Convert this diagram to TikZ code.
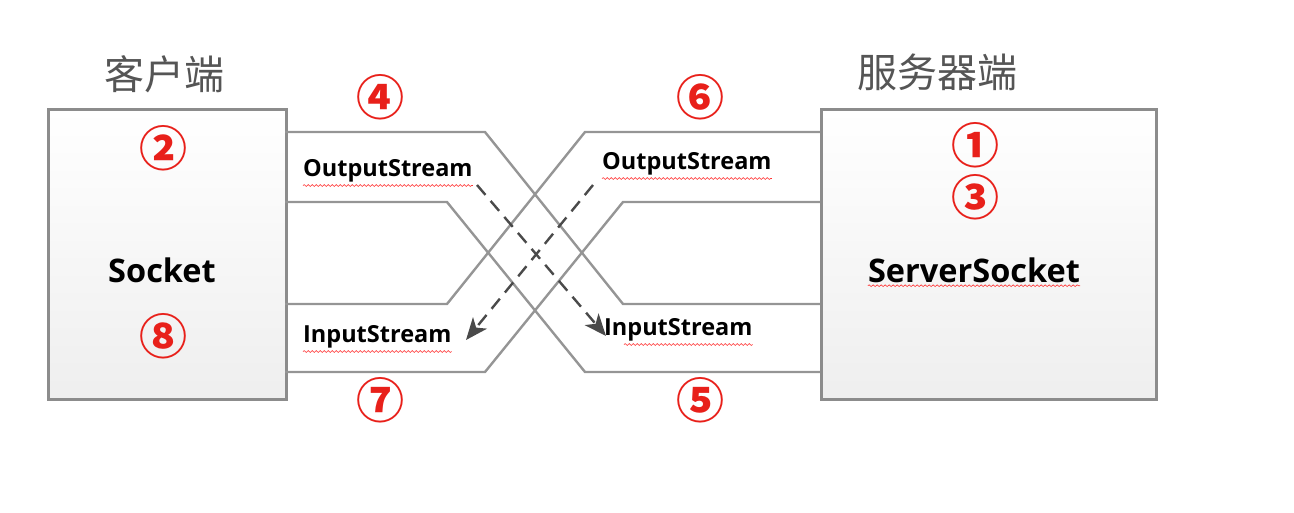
\documentclass[tikz,border=0pt]{standalone}
\usepackage{fontspec}
\setmainfont{Open Sans}
\newfontfamily\cjk{Noto Sans CJK SC}
\usetikzlibrary{arrows.meta,shadows,decorations.pathmorphing}
\definecolor{numred}{HTML}{E8201A}
\definecolor{chan}{HTML}{959595}
\definecolor{boxline}{HTML}{8C8C8C}
\definecolor{dashc}{HTML}{4A4A4A}
\definecolor{titlec}{HTML}{555555}
\tikzset{
  x=1pt,y=-1pt,
  endbox/.style={draw=boxline,line width=2.5pt,top color=white,bottom color=gray!13,
    drop shadow={opacity=0.25,shadow xshift=2pt,shadow yshift=-2pt}},
  chanline/.style={draw=chan,line width=2.4pt,line join=miter},
  flow/.style={draw=dashc,line width=2.4pt,dash pattern=on 13pt off 8pt,
    -{Stealth[length=22pt,width=18pt,inset=6pt]}},
  num/.style={font=\cjk\bfseries\fontsize{48}{48}\selectfont,text=numred,inner sep=0pt},
  title/.style={font=\cjk\fontsize{40}{40}\selectfont,text=titlec,inner sep=0pt},
  lbl/.style={font=\bfseries\fontsize{23.5}{23.5}\selectfont,inner sep=0pt,anchor=west},
  big/.style={font=\bfseries\fontsize{32.5}{32.5}\selectfont,inner sep=0pt},
  spell/.style={draw=red!80,line width=0.6pt,decorate,
    decoration={snake,segment length=4pt,amplitude=0.9pt}}
}
\begin{document}
\begin{tikzpicture}
\useasboundingbox (0,0) rectangle (1294,512);
% boxes
\node[endbox,minimum width=238pt,minimum height=290pt,anchor=north west,inner sep=0pt] (client) at (47,108) {};
\node[endbox,minimum width=335pt,minimum height=290pt,anchor=north west,inner sep=0pt] (server) at (820,108) {};
% titles
\node[title] (tclient) at (164,74) {客户端};
\node[title] (tserver) at (937,72) {服务器端};
% box texts
\node[big] (socket) at (162,270) {Socket};
\node[big] (ssocket) at (974,270) {ServerSocket};
% channel bend points
\coordinate (a1) at (285,132); \coordinate (a2) at (485,132); \coordinate (a3) at (623,304); \coordinate (a4) at (820,304);
\coordinate (b1) at (285,202); \coordinate (b2) at (447,202); \coordinate (b3) at (585,372); \coordinate (b4) at (820,372);
\coordinate (c1) at (820,132); \coordinate (c2) at (585,132); \coordinate (c3) at (447,304); \coordinate (c4) at (285,304);
\coordinate (d1) at (820,202); \coordinate (d2) at (623,202); \coordinate (d3) at (485,372); \coordinate (d4) at (285,372);
\draw[chanline] (a1) -- (a2) -- (a3) -- (a4);
\draw[chanline] (b1) -- (b2) -- (b3) -- (b4);
\draw[chanline] (c1) -- (c2) -- (c3) -- (c4);
\draw[chanline] (d1) -- (d2) -- (d3) -- (d4);
% stream labels
\node[lbl] (os1) at (303,171) {OutputStream};
\node[lbl] (os2) at (602,164) {OutputStream};
\node[lbl] (is1) at (303,337) {InputStream};
\node[lbl] (is2) at (604,330) {InputStream};
% spell-check underlines
\draw[spell] ([yshift=-3pt]os1.south west) -- ([yshift=-3pt]os1.south east);
\draw[spell] ([yshift=-3pt]os2.south west) -- ([yshift=-3pt]os2.south east);
\draw[spell] ([yshift=-3pt]is1.south west) -- ([yshift=-3pt]is1.south east);
\draw[spell] ([xshift=20pt,yshift=-3pt]is2.south west) -- ([yshift=-3pt]is2.south east);
\draw[spell] ([yshift=-3pt]ssocket.south west) -- ([yshift=-3pt]ssocket.south east);
% data flow arrows
\coordinate (f1s) at (477,185); \coordinate (f1e) at (606,336);
\coordinate (f2s) at (593,185); \coordinate (f2e) at (466,340);
\draw[flow] (f1s) -- (f1e);
\draw[flow] (f2s) -- (f2e);
% step numbers
\node[num] (n1) at (975,145) {①};
\node[num] (n2) at (163,148) {②};
\node[num] (n3) at (975,197) {③};
\node[num] (n4) at (380,97) {④};
\node[num] (n5) at (700,400) {⑤};
\node[num] (n6) at (700,97) {⑥};
\node[num] (n7) at (380,400) {⑦};
\node[num] (n8) at (163,336) {⑧};
\end{tikzpicture}
\end{document}
